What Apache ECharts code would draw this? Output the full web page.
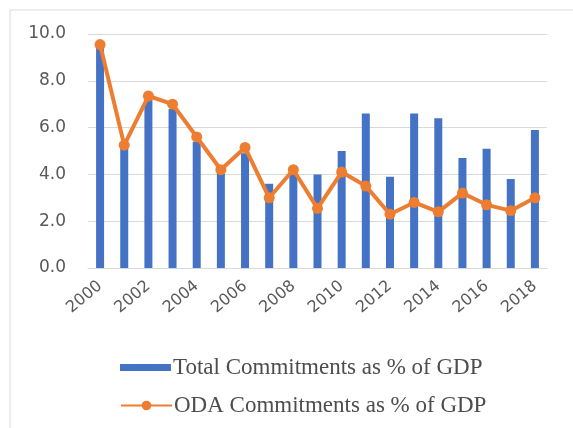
<!DOCTYPE html>
<html>
<head>
<meta charset="utf-8">
<script src="https://cdn.jsdelivr.net/npm/echarts@6/dist/echarts.min.js"></script>
<style>html,body{margin:0;padding:0;background:#fff;}#c{width:573px;height:428px;}</style>
</head>
<body>
<div id="c"></div>
<script>
const years = ['2000','2001','2002','2003','2004','2005','2006','2007','2008','2009','2010','2011','2012','2013','2014','2015','2016','2017','2018'];
const totalCommitments = [9.4, 5.2, 7.2, 6.8, 5.4, 4.1, 4.9, 3.6, 4.1, 4.0, 5.0, 6.6, 3.9, 6.6, 6.4, 4.7, 5.1, 3.8, 5.9];
const odaCommitments = [9.55, 5.25, 7.35, 7.0, 5.6, 4.2, 5.15, 3.0, 4.2, 2.55, 4.1, 3.5, 2.3, 2.8, 2.4, 3.2, 2.7, 2.45, 3.0];
const yTicks = [0, 2, 4, 6, 8, 10];
const seriesNames = ['Total Commitments as % of GDP', 'ODA Commitments as % of GDP'];

const chart = echarts.init(document.getElementById('c'));
chart.setOption({
  backgroundColor: '#ffffff',
  animation: false,
  graphic: [
    {type: 'line', shape: {x1: 10, y1: 10, x2: 573, y2: 10}, style: {stroke: '#d9d9d9', lineWidth: 1}},
    {type: 'line', shape: {x1: 10, y1: 10, x2: 10, y2: 428}, style: {stroke: '#d9d9d9', lineWidth: 1}}
  ],
  grid: {left: 88, right: 26, top: 34, bottom: 160, containLabel: false},
  legend: [
    {
      data: [{name: seriesNames[0], icon: 'rect'}], left: 115, top: 351, itemWidth: 51, itemHeight: 7, itemGap: 0,
      textStyle: {fontFamily: 'Liberation Serif', fontSize: 23, color: '#4d4d4d', padding: [0,0,0,-3]}
    },
    {
      data: [seriesNames[1]], left: 115, top: 389, itemWidth: 51, itemHeight: 12, itemGap: 0,
      textStyle: {fontFamily: 'Liberation Serif', fontSize: 23, color: '#4d4d4d', padding: [0,0,0,-3]}
    }
  ],
  xAxis: {
    type: 'category',
    data: years,
    axisLine: {show: true, lineStyle: {color: '#d9d9d9', width: 1}},
    axisTick: {show: false},
    axisLabel: {interval: 1, rotate: 40, margin: 16, color: '#595959', fontFamily: 'DejaVu Sans', fontSize: 16}
  },
  yAxis: {
    type: 'value',
    min: yTicks[0], max: yTicks[yTicks.length - 1], interval: 2,
    axisLine: {show: false}, axisTick: {show: false},
    splitLine: {lineStyle: {color: '#d9d9d9', width: 1}},
    axisLabel: {margin: 22, color: '#595959', fontFamily: 'DejaVu Sans', fontSize: 17, formatter: v => v.toFixed(1)}
  },
  series: [
    {
      name: seriesNames[0], type: 'bar', data: totalCommitments, barWidth: 8,
      itemStyle: {color: '#4472C4'}
    },
    {
      name: seriesNames[1], type: 'line', data: odaCommitments,
      symbol: 'circle', symbolSize: 11,
      lineStyle: {color: '#ED7D31', width: 4},
      itemStyle: {color: '#ED7D31'}
    }
  ]
});
</script>
</body>
</html>
